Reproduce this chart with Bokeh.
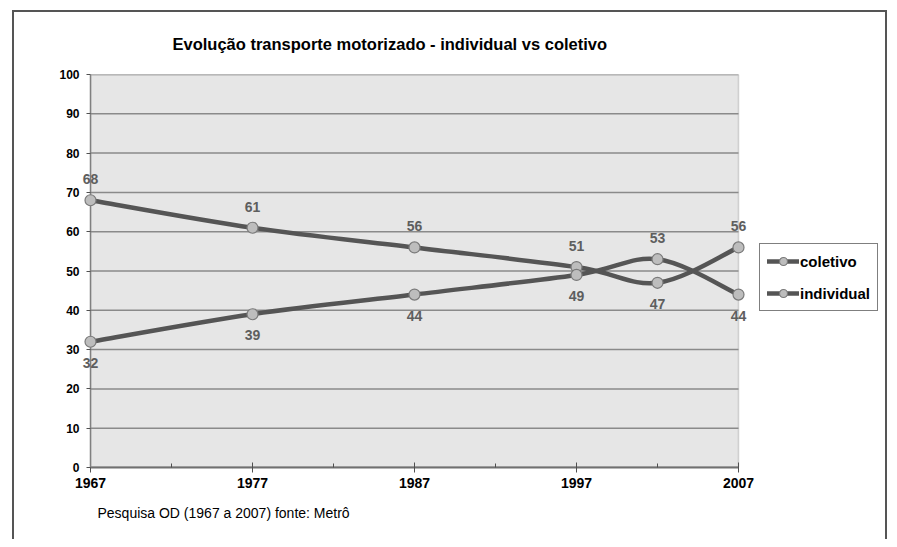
from bokeh.plotting import figure
from bokeh.models import (Range1d, FixedTicker, Legend, LegendItem,
                          ColumnDataSource, Title, InlineStyleSheet, BoxAnnotation)
from bokeh.embed import file_html
from bokeh.resources import INLINE
from bokeh.core.properties import value

# ---- data ----
years = [1967, 1977, 1987, 1997, 2002, 2007]
coletivo = [68, 61, 56, 51, 47, 56]
individual = [32, 39, 44, 49, 53, 44]
series_names = ["coletivo", "individual"]
x_tick_years = [1967, 1977, 1987, 1997, 2007]
x_minor_years = [1972, 1982, 1992, 2002]
y_ticks = [0, 10, 20, 30, 40, 50, 60, 70, 80, 90, 100]
title_text = "Evolução transporte motorizado - individual vs coletivo"
source_text = "Pesquisa OD (1967 a 2007) fonte: Metrô"

FONT = "Liberation Sans"
LINE_COLOR = "#555555"
X_LO, X_HI = x_tick_years[0], x_tick_years[-1]
Y_LO, Y_HI = y_ticks[0], y_ticks[-1]


def smooth_segments(xs, ys):
    """Bezier segments (Catmull-Rom style) through the data points."""
    n = len(xs)
    d = {k: [] for k in ("x0", "y0", "x1", "y1", "cx0", "cy0", "cx1", "cy1")}
    for i in range(n - 1):
        ip = max(i - 1, 0)
        inx = min(i + 2, n - 1)
        d["x0"].append(xs[i]); d["y0"].append(ys[i])
        d["x1"].append(xs[i + 1]); d["y1"].append(ys[i + 1])
        d["cx0"].append(xs[i] + (xs[i + 1] - xs[ip]) / 6.0)
        d["cy0"].append(ys[i] + (ys[i + 1] - ys[ip]) / 6.0)
        d["cx1"].append(xs[i + 1] - (xs[inx] - xs[i]) / 6.0)
        d["cy1"].append(ys[i + 1] - (ys[inx] - ys[i]) / 6.0)
    return ColumnDataSource(d)


border_css = InlineStyleSheet(css="""
:host { position: relative; }
:host::after {
  content: ''; position: absolute; left: 12px; top: 10px; right: 2px; bottom: 0px;
  border: 2px solid #555555; border-bottom: none; pointer-events: none; z-index: 100;
}
""")

# plot area spans 1967..2007 over 648 px; the frame continues to the right
# so that the legend (placed right of the plot area) is inside the frame.
FRAME_LEFT, PLOT_RIGHT, FRAME_RIGHT = 90, 738, 885
x_end = X_LO + (X_HI - X_LO) * (FRAME_RIGHT - FRAME_LEFT) / (PLOT_RIGHT - FRAME_LEFT)

p = figure(width=889, height=539, output_backend="svg", toolbar_location=None,
           x_range=Range1d(X_LO, x_end), y_range=Range1d(Y_LO, Y_HI),
           min_border_left=FRAME_LEFT, min_border_right=889 - FRAME_RIGHT,
           min_border_top=74, min_border_bottom=72,
           background_fill_color="white", border_fill_color="white",
           outline_line_color=None,
           stylesheets=[border_css])

# plot area background
p.add_layout(BoxAnnotation(left=X_LO, right=X_HI, bottom=Y_LO, top=Y_HI,
                           fill_color="#e6e6e6", fill_alpha=1,
                           line_color="#808080", line_width=1.5,
                           level="underlay"))

# title
p.title.text = title_text
p.title.align = "left"
p.title.offset = 82
p.title.standoff = 44
p.title.text_font = FONT
p.title.text_font_size = "16.5px"
p.title.text_font_style = "bold"
p.title.text_color = "black"

# axes
xa = p.xaxis[0]
xa.ticker = FixedTicker(ticks=x_tick_years, minor_ticks=x_minor_years)
xa.bounds = (X_LO, X_HI)
xa.axis_line_color = "#707070"
xa.axis_line_width = 2
xa.major_tick_line_color = "#505050"
xa.major_tick_in = 5
xa.major_tick_out = 5
xa.minor_tick_line_color = "#505050"
xa.minor_tick_in = 4
xa.minor_tick_out = 0
xa.major_label_text_font = FONT
xa.major_label_text_font_size = "14px"
xa.major_label_text_font_style = "bold"
xa.major_label_text_color = "black"
xa.major_label_standoff = 5

ya = p.yaxis[0]
ya.ticker = FixedTicker(ticks=y_ticks)
ya.axis_line_color = "#808080"
ya.axis_line_width = 1.5
ya.major_tick_line_color = "#505050"
ya.major_tick_in = 0
ya.major_tick_out = 4
ya.minor_tick_line_color = None
ya.major_label_text_font = FONT
ya.major_label_text_font_size = "12px"
ya.major_label_text_font_style = "bold"
ya.major_label_text_color = "black"
ya.major_label_standoff = 7

p.grid.visible = False
# horizontal grid lines limited to the plot area
p.segment(x0=[X_LO] * len(y_ticks), x1=[X_HI] * len(y_ticks), y0=y_ticks, y1=y_ticks,
          line_color="#8a8a8a", line_width=1.5)

# footnote
foot = Title(text=source_text, align="left", offset=7, standoff=24,
             text_font=FONT, text_font_size="14px", text_font_style="normal",
             text_color="black")
p.add_layout(foot, "below")

# series
items = []
for name, vals, other in ((series_names[0], coletivo, individual),
                          (series_names[1], individual, coletivo)):
    seg = smooth_segments(years, vals)
    bz = p.bezier(x0="x0", y0="y0", x1="x1", y1="y1", cx0="cx0", cy0="cy0",
                  cx1="cx1", cy1="cy1", source=seg, line_color=LINE_COLOR,
                  line_width=4.5, line_cap="round")
    sc = p.scatter(years, vals, size=11, fill_color="#bdbdbd",
                   line_color="#7a7a7a", line_width=1.2, level="overlay")
    offs = [-21 if v >= o else 21 for v, o in zip(vals, other)]
    src = ColumnDataSource(dict(x=years, y=vals, t=[str(v) for v in vals], off=offs))
    p.text(x="x", y="y", text="t", y_offset="off", source=src,
           text_align="center", text_baseline="middle",
           text_font=value(FONT), text_font_size="14px",
           text_font_style="bold", text_color="#5e5e5e", level="overlay")
    items.append(LegendItem(label=name, renderers=[bz, sc]))

legend = Legend(items=items, location=(669, 156), orientation="vertical",
                label_text_font=FONT, label_text_font_size="15px",
                label_text_font_style="bold", label_text_color="black",
                border_line_color="black", border_line_width=1,
                background_fill_color="white", background_fill_alpha=1,
                padding=7, spacing=12, margin=0, glyph_width=32,
                glyph_height=20, label_height=20, label_standoff=1)
p.add_layout(legend, "center")

open("out.html", "w").write(file_html(p, INLINE))
